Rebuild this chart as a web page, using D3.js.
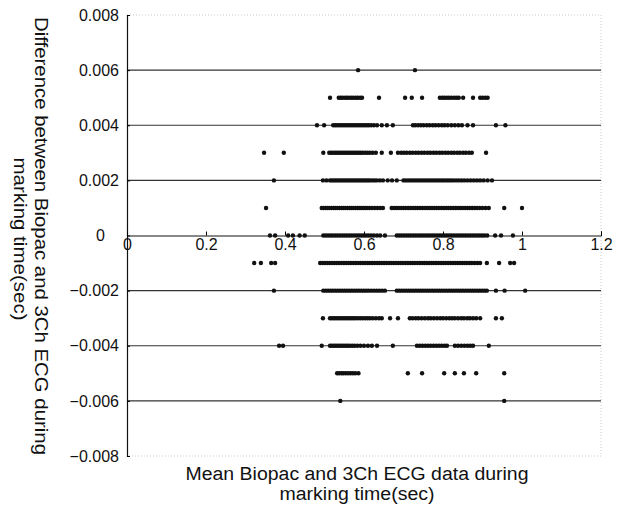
<!DOCTYPE html>
<html>
<head>
<meta charset="utf-8">
<script src="https://cdn.jsdelivr.net/npm/d3@7"></script>
<style>
body { margin: 0; background: #fff; }
text { font-family: "Liberation Sans", Arial, sans-serif; fill: #111; }
</style>
</head>
<body>
<script>
// tick values
var xTicks = [0, 0.2, 0.4, 0.6, 0.8, 1, 1.2];
var yTicks = [-0.008, -0.006, -0.004, -0.002, 0, 0.002, 0.004, 0.006, 0.008];
var gridLevels = [-0.006, -0.004, -0.002, 0.002, 0.004, 0.006];

// difference levels (sec) and the mean values (sec) seen on each level
var levels = [0.006, 0.005, 0.004, 0.003, 0.002, 0.001, 0, -0.001, -0.002, -0.003, -0.004, -0.005, -0.006];

var p006 = [0.585, 0.729];
var p005 = [0.514, 0.536, 0.541, 0.546, 0.552, 0.557, 0.562, 0.568, 0.573, 0.579, 0.584, 0.590, 0.595, 0.638, 0.704, 0.721, 0.747,
	0.792, 0.798, 0.803, 0.809, 0.815, 0.821, 0.828, 0.834, 0.840, 0.851, 0.876, 0.894, 0.900, 0.907, 0.913];
var p004 = [0.481, 0.499, 0.522, 0.527, 0.532, 0.537, 0.542, 0.547, 0.552, 0.557, 0.562, 0.567, 0.572, 0.577, 0.582, 0.587, 0.592,
	0.597, 0.602, 0.607, 0.612, 0.618, 0.625, 0.633, 0.645, 0.658, 0.673, 0.724, 0.730, 0.737, 0.744, 0.751, 0.759, 0.766, 0.774,
	0.781, 0.789, 0.797, 0.804, 0.812, 0.821, 0.830, 0.839, 0.848, 0.862, 0.876, 0.934, 0.958];
var p003 = [0.347, 0.397, 0.497, 0.512, 0.517, 0.522, 0.527, 0.532, 0.537, 0.542, 0.547, 0.552, 0.557, 0.562, 0.567, 0.572, 0.577,
	0.582, 0.587, 0.592, 0.597, 0.603, 0.609, 0.615, 0.622, 0.630, 0.645, 0.668, 0.686, 0.694, 0.701, 0.708, 0.716, 0.723, 0.731,
	0.738, 0.746, 0.753, 0.761, 0.768, 0.776, 0.783, 0.791, 0.798, 0.806, 0.813, 0.821, 0.828, 0.836, 0.843, 0.851, 0.858, 0.866,
	0.873, 0.909];
var p002 = [0.372, 0.496, 0.505, 0.514, 0.519, 0.524, 0.529, 0.534, 0.539, 0.544, 0.549, 0.554, 0.559, 0.564, 0.569, 0.574, 0.579,
	0.584, 0.589, 0.594, 0.599, 0.604, 0.609, 0.614, 0.620, 0.626, 0.632, 0.640, 0.648, 0.660, 0.671, 0.683, 0.700, 0.706, 0.712,
	0.718, 0.724, 0.730, 0.736, 0.742, 0.748, 0.754, 0.760, 0.766, 0.772, 0.778, 0.784, 0.790, 0.796, 0.802, 0.808, 0.814, 0.820,
	0.826, 0.833, 0.840, 0.847, 0.854, 0.862, 0.870, 0.878, 0.886, 0.894, 0.903, 0.913, 0.924];
var p001 = [0.352, 0.493, 0.498, 0.503, 0.508, 0.513, 0.518, 0.523, 0.528, 0.533, 0.538, 0.543, 0.548, 0.553, 0.558, 0.563, 0.568,
	0.573, 0.578, 0.583, 0.588, 0.593, 0.598, 0.603, 0.608, 0.614, 0.620, 0.627, 0.634, 0.641, 0.648, 0.670, 0.676, 0.682, 0.688,
	0.694, 0.700, 0.706, 0.712, 0.718, 0.724, 0.730, 0.736, 0.742, 0.748, 0.754, 0.760, 0.766, 0.772, 0.778, 0.784, 0.790, 0.796,
	0.802, 0.808, 0.814, 0.820, 0.826, 0.832, 0.838, 0.844, 0.850, 0.856, 0.862, 0.868, 0.874, 0.880, 0.886, 0.893, 0.900, 0.908,
	0.916, 0.955, 1.000];
var p000 = [0.362, 0.375, 0.408, 0.420, 0.437, 0.450, 0.497, 0.503, 0.509, 0.515, 0.521, 0.527, 0.533, 0.539, 0.545, 0.551, 0.557,
	0.563, 0.569, 0.575, 0.581, 0.587, 0.593, 0.599, 0.605, 0.611, 0.618, 0.625, 0.633, 0.641, 0.653, 0.683, 0.689, 0.695, 0.701,
	0.707, 0.713, 0.719, 0.725, 0.731, 0.737, 0.743, 0.749, 0.755, 0.761, 0.767, 0.773, 0.779, 0.785, 0.791, 0.797, 0.803, 0.809,
	0.815, 0.821, 0.827, 0.833, 0.839, 0.845, 0.851, 0.857, 0.863, 0.869, 0.875, 0.881, 0.887, 0.893, 0.899, 0.905, 0.912, 0.932,
	0.947, 0.977];
var m001 = [0.322, 0.339, 0.365, 0.375, 0.489, 0.495, 0.501, 0.507, 0.513, 0.519, 0.525, 0.531, 0.537, 0.543, 0.549, 0.555, 0.561,
	0.567, 0.573, 0.579, 0.585, 0.591, 0.597, 0.603, 0.609, 0.615, 0.621, 0.627, 0.633, 0.639, 0.645, 0.651, 0.657, 0.663, 0.669,
	0.675, 0.681, 0.687, 0.693, 0.699, 0.705, 0.711, 0.717, 0.723, 0.729, 0.735, 0.741, 0.747, 0.753, 0.759, 0.765, 0.771, 0.777,
	0.783, 0.789, 0.795, 0.801, 0.807, 0.813, 0.819, 0.825, 0.831, 0.837, 0.843, 0.849, 0.855, 0.861, 0.867, 0.873, 0.880, 0.887,
	0.894, 0.911, 0.942, 0.970, 0.980];
var m002 = [0.372, 0.497, 0.503, 0.509, 0.515, 0.521, 0.527, 0.533, 0.539, 0.545, 0.551, 0.557, 0.563, 0.569, 0.575, 0.581, 0.587,
	0.593, 0.599, 0.605, 0.611, 0.618, 0.625, 0.632, 0.639, 0.646, 0.653, 0.683, 0.689, 0.695, 0.701, 0.707, 0.713, 0.719, 0.725,
	0.731, 0.737, 0.743, 0.749, 0.755, 0.761, 0.767, 0.773, 0.779, 0.785, 0.791, 0.797, 0.803, 0.809, 0.815, 0.821, 0.827, 0.833,
	0.839, 0.845, 0.851, 0.857, 0.863, 0.869, 0.875, 0.881, 0.887, 0.893, 0.899, 0.905, 0.911, 0.934, 0.956, 1.008];
var m003 = [0.496, 0.514, 0.519, 0.524, 0.529, 0.534, 0.539, 0.544, 0.549, 0.554, 0.559, 0.564, 0.569, 0.574, 0.579, 0.585, 0.591,
	0.597, 0.603, 0.609, 0.615, 0.622, 0.630, 0.638, 0.645, 0.666, 0.686, 0.716, 0.723, 0.731, 0.738, 0.746, 0.754, 0.762, 0.769,
	0.777, 0.785, 0.793, 0.800, 0.808, 0.816, 0.823, 0.830, 0.838, 0.846, 0.853, 0.861, 0.868, 0.876, 0.884, 0.894, 0.934, 0.949];
var m004 = [0.385, 0.395, 0.493, 0.514, 0.519, 0.524, 0.529, 0.534, 0.539, 0.544, 0.549, 0.554, 0.559, 0.564, 0.570, 0.576, 0.583,
	0.591, 0.600, 0.610, 0.620, 0.633, 0.673, 0.734, 0.741, 0.748, 0.755, 0.762, 0.769, 0.776, 0.783, 0.790, 0.797, 0.804, 0.810,
	0.830, 0.838, 0.846, 0.854, 0.862, 0.869, 0.876, 0.916];
var m005 = [0.532, 0.537, 0.543, 0.548, 0.554, 0.560, 0.566, 0.572, 0.578, 0.586, 0.711, 0.747, 0.803, 0.830, 0.853, 0.884, 0.955];
var m006 = [0.540, 0.955];

var rows = [p006, p005, p004, p003, p002, p001, p000, m001, m002, m003, m004, m005, m006];

function drawChart() {
	var svg = d3.select("body").append("svg").attr("width", 619).attr("height", 506);

	var x = d3.scaleLinear().domain([0, 1.2]).range([127, 601]);
	var y = d3.scaleLinear().domain([-0.008, 0.008]).range([456, 15]);

	// faint frame at top and right
	svg.append("path")
		.attr("d", "M" + x(0) + "," + y(0.008) + "H" + x(1.2) + "V" + y(-0.008) + "H" + x(0))
		.attr("fill", "none")
		.attr("stroke", "#bbb")
		.attr("stroke-width", 0.8)
		.attr("stroke-dasharray", "1,2");

	// horizontal grid lines
	svg.selectAll(".grid").data(gridLevels).enter().append("line")
		.attr("class", "grid")
		.attr("x1", x(0)).attr("x2", x(1.2))
		.attr("y1", function(d) { return y(d); })
		.attr("y2", function(d) { return y(d); })
		.attr("stroke", "#333")
		.attr("stroke-width", 1.1);

	// y axis
	var yAxis = d3.axisLeft(y).tickValues(yTicks).tickSize(-3).tickPadding(8)
		.tickFormat(function(d) { return d === 0 ? "0" : d3.format(".3f")(d); });
	var gy = svg.append("g").attr("transform", "translate(" + x(0) + ",0)").call(yAxis);
	gy.select(".domain").attr("stroke", "#111").attr("stroke-width", 1.2);
	gy.selectAll("text").style("font-size", "16px").attr("fill", "#111")
		.attr("dx", function(d) { return d === 0 ? -14 : 0; });

	// x axis along zero
	var xAxis = d3.axisBottom(x).tickValues(xTicks).tickSize(-4).tickPadding(3)
		.tickFormat(d3.format("~g"));
	var gx = svg.append("g").attr("transform", "translate(0," + y(0) + ")").call(xAxis);
	gx.select(".domain").attr("stroke", "#111").attr("stroke-width", 1);
	gx.selectAll("text").style("font-size", "16px").attr("fill", "#111");

	// points
	var pts = [];
	for (var i = 0; i < levels.length; i++) {
		for (var j = 0; j < rows[i].length; j++) {
			pts.push({ mean: rows[i][j], diff: levels[i] });
		}
	}
	svg.selectAll(".pt").data(pts).enter().append("circle")
		.attr("class", "pt")
		.attr("cx", function(d) { return x(d.mean); })
		.attr("cy", function(d) { return y(d.diff); })
		.attr("r", 2.2)
		.attr("fill", "#111");

	// axis titles
	svg.append("text").attr("x", 357).attr("y", 480).attr("text-anchor", "middle")
		.style("font-size", "18px").attr("textLength", 343).attr("lengthAdjust", "spacingAndGlyphs")
		.text("Mean Biopac and 3Ch ECG data during");
	svg.append("text").attr("x", 357).attr("y", 500).attr("text-anchor", "middle")
		.style("font-size", "18px").attr("textLength", 155).attr("lengthAdjust", "spacingAndGlyphs")
		.text("marking time(sec)");

	svg.append("text").attr("transform", "translate(35,236) rotate(90)").attr("text-anchor", "middle")
		.style("font-size", "19px").attr("textLength", 438).attr("lengthAdjust", "spacingAndGlyphs")
		.text("Difference between Biopac and 3Ch ECG during");
	svg.append("text").attr("transform", "translate(14,239) rotate(90)").attr("text-anchor", "middle")
		.style("font-size", "19px").attr("textLength", 163).attr("lengthAdjust", "spacingAndGlyphs")
		.text("marking time(sec)");
}

drawChart();
</script>
</body>
</html>
